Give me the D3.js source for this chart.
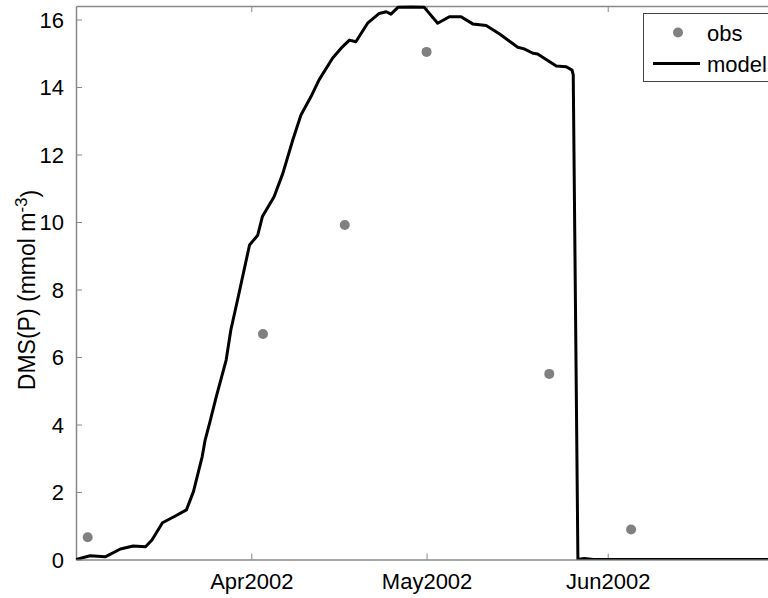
<!DOCTYPE html>
<html>
<head>
<meta charset="utf-8">
<script src="https://cdn.jsdelivr.net/npm/d3@7"></script>
<style>
  body { margin: 0; background: #fff; }
  text { font-family: "Liberation Sans", Arial, sans-serif; }
</style>
</head>
<body>
<svg id="chart" width="768" height="598"></svg>
<script>
// day of year 2002 (Jan 1 = 1)
const modelDay = [61, 63.4, 66.0, 68.6, 70.8, 72.9, 74.0, 75.8, 78.0, 79.9, 81.1, 82.6, 83.1, 84.0,
  85.0, 86.7, 87.5, 88.9, 90.7, 92.1, 92.9, 94.9, 96.4, 98.1, 99.5, 101.2, 102.6, 104.9, 106.6,
  107.8, 108.9, 110.9, 112.9, 114.1, 114.9, 116.1, 118.4, 120.6, 122.9, 124.9, 126.9, 128.9,
  131.2, 133.5, 136.6, 137.7, 139.2, 140.0, 143.2, 144.9, 145.9, 146.1, 146.9, 148.0, 149.5, 182];
const modelVal = [0, 0.11, 0.08, 0.31, 0.40, 0.38, 0.58, 1.09, 1.29, 1.47, 2.01, 3.05, 3.54, 4.13,
  4.82, 5.91, 6.80, 7.89, 9.32, 9.61, 10.16, 10.75, 11.44, 12.43, 13.17, 13.71, 14.21, 14.85, 15.19,
  15.39, 15.34, 15.89, 16.18, 16.23, 16.16, 16.36, 16.37, 16.36, 15.89, 16.08, 16.08, 15.87,
  15.82, 15.57, 15.18, 15.13, 15.00, 14.98, 14.62, 14.60, 14.50, 14.36, 0, 0.03, 0, 0];

const obsDay = [63, 93, 107, 121, 142, 156];
const obsVal = [0.66, 6.68, 9.91, 15.04, 5.50, 0.89];

const yTicks = [0, 2, 4, 6, 8, 10, 12, 14, 16];
const xTickLabels = ["Apr2002", "May2002", "Jun2002"];

const toDate = d => new Date(Date.UTC(2002, 0, 1) + (d - 1) * 864e5);

const svg = d3.select("#chart");
const mLeft = 76, mRight = 783, mTop = 6, mBottom = 559.5;
const axisColor = "#888";

const x = d3.scaleUtc()
  .domain([toDate(61), toDate(182)])
  .range([mLeft, mRight]);

const y = d3.scaleLinear()
  .domain([0, 16.4])
  .range([mBottom, mTop]);

svg.append("defs").append("clipPath").attr("id", "plot")
  .append("rect").attr("x", mLeft).attr("y", mTop - 1)
  .attr("width", mRight - mLeft).attr("height", mBottom - mTop + 1);

const xTickDates = [toDate(91), toDate(121), toDate(152)];

// bottom axis, ticks inward
const xb = svg.append("g")
  .attr("transform", `translate(0,${mBottom})`)
  .call(d3.axisBottom(x).tickValues(xTickDates).tickSizeInner(-6).tickSizeOuter(0)
    .tickFormat((d, i) => xTickLabels[i]).tickPadding(18));
// top axis
const xt = svg.append("g")
  .attr("transform", `translate(0,${mTop})`)
  .call(d3.axisTop(x).tickValues(xTickDates).tickSizeInner(-6).tickSizeOuter(0)
    .tickFormat(""));
// left axis
const yl = svg.append("g")
  .attr("transform", `translate(${mLeft},0)`)
  .call(d3.axisLeft(y).tickValues(yTicks).tickSizeInner(-6).tickSizeOuter(0).tickPadding(12));

[xb, xt, yl].forEach(g => {
  g.select(".domain").attr("stroke", axisColor).attr("stroke-width", 1.5);
  g.selectAll(".tick line").attr("stroke", axisColor);
  g.selectAll(".tick text").attr("fill", "#000").style("font-size", "22px")
    .style("font-family", "'Liberation Sans', Arial, sans-serif");
});
xb.selectAll(".tick text").attr("dy", "0.5em");
yl.selectAll(".tick text").attr("dy", "0.36em");

// y label
const yLab = svg.append("text")
  .attr("transform", "translate(35,290) rotate(-90)")
  .attr("text-anchor", "middle")
  .style("font-size", "23px");
yLab.append("tspan").text("DMS(P) (mmol m");
yLab.append("tspan").attr("dy", "-0.5em").style("font-size", "17px").text("-3");
yLab.append("tspan").attr("dy", "0.5em").text(")");

// model line
const line = d3.line()
  .x((d, i) => x(toDate(modelDay[i])))
  .y(d => y(d));

svg.append("path")
  .datum(modelVal)
  .attr("clip-path", "url(#plot)")
  .attr("fill", "none")
  .attr("stroke", "#000")
  .attr("stroke-width", 3)
  .attr("stroke-linejoin", "round")
  .attr("d", line);

// observations
svg.append("g").selectAll("circle")
  .data(obsVal)
  .join("circle")
  .attr("cx", (d, i) => x(toDate(obsDay[i])))
  .attr("cy", d => y(d))
  .attr("r", 5)
  .attr("fill", "#808080");

// legend
const lg = svg.append("g");
lg.append("rect")
  .attr("x", 643.5).attr("y", 13.5).attr("width", 140).attr("height", 68)
  .attr("fill", "#fff").attr("stroke", "#444").attr("stroke-width", 1);
lg.append("circle").attr("cx", 678).attr("cy", 32.5).attr("r", 5).attr("fill", "#808080");
lg.append("text").attr("x", 707).attr("y", 41).style("font-size", "22px").text("obs");
lg.append("line").attr("x1", 653).attr("x2", 700).attr("y1", 63.5).attr("y2", 63.5)
  .attr("stroke", "#000").attr("stroke-width", 3);
lg.append("text").attr("x", 707).attr("y", 72).style("font-size", "22px").text("model");
</script>
</body>
</html>
